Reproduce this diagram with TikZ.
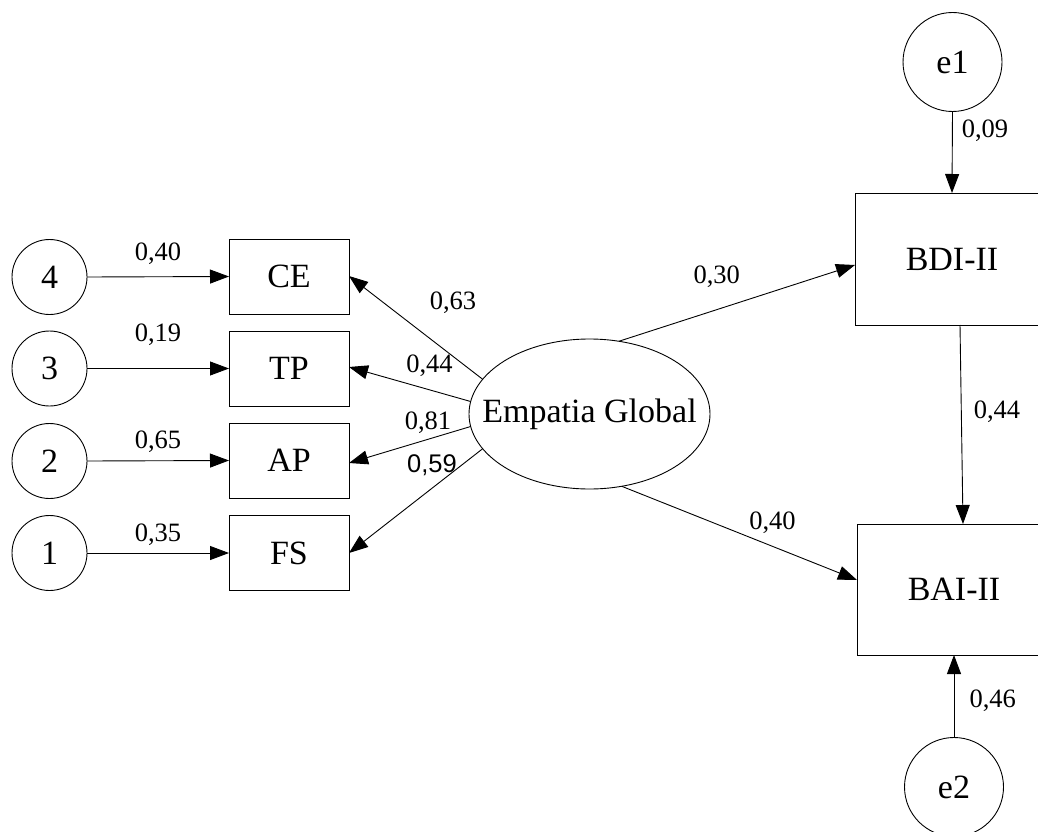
\documentclass[tikz,border=0pt]{standalone}
\usepackage{fontspec}
\setmainfont{Liberation Serif}
\newfontfamily\arialfont{Liberation Sans}
\usetikzlibrary{shapes.geometric,arrows.meta}
\begin{document}
\begin{tikzpicture}[x=1pt,y=-1pt,
  every node/.style={inner sep=0pt,outer sep=0pt},
  var/.style={draw,line width=0.9pt,rectangle,font=\fontsize{34}{40}\selectfont},
  err/.style={draw,line width=0.9pt,circle,font=\fontsize{34}{40}\selectfont},
  lat/.style={draw,line width=0.9pt,ellipse},
  big/.style={font=\fontsize{34}{40}\selectfont},
  coef/.style={anchor=base,font=\fontsize{26.5}{30}\selectfont},
  path/.style={line width=0.9pt,-{Triangle[length=19pt,width=14pt]}}]
\useasboundingbox (0,0) rectangle (1038,832);
% left error circles
\node[err,minimum size=75pt] (c4) at (49.5,277) {4};
\node[err,minimum size=75pt] (c3) at (49.5,368.5) {3};
\node[err,minimum size=75pt] (c2) at (49.5,461) {2};
\node[err,minimum size=75pt] (c1) at (49.5,553) {1};
% observed boxes
\node[var,minimum width=120pt,minimum height=75pt] (CE) at (289,276.5) {CE};
\node[var,minimum width=120pt,minimum height=75pt] (TP) at (289,368.5) {TP};
\node[var,minimum width=120pt,minimum height=75pt] (AP) at (289,460.5) {AP};
\node[var,minimum width=120pt,minimum height=75pt] (FS) at (289,553) {FS};
% latent
\node[lat,minimum width=241pt,minimum height=150pt] (EG) at (589.5,414) {};
\node[big] (EGt) at (EG.center) {Empatia Global};
% right side
\node[var,minimum width=194pt,minimum height=132pt] (BDI) at (952,259) {BDI-II};
\node[var,minimum width=194pt,minimum height=131pt] (BAI) at (954,589.5) {BAI-II};
\node[err,minimum size=99pt] (e1) at (952.5,62) {e1};
\node[err,minimum size=99pt] (e2) at (954,787) {e2};
% connectors
\draw[path] (c4.east) -- (CE.west);
\draw[path] (c3.east) -- (TP.west);
\draw[path] (c2.east) -- (AP.west);
\draw[path] (c1.east) -- (FS.west);
\draw[path] (EG.162.9) -- ([yshift=0.5pt]CE.east);
\draw[path] (EG.174.2) -- ([yshift=1.5pt]TP.east);
\draw[path] (EG.186.7) -- ([yshift=-2.5pt]AP.east);
\draw[path] (EG.198.5) -- (FS.east);
\draw[path] (EG.68) -- ([yshift=-6pt]BDI.west);
\draw[path] (EG.294) -- ([yshift=9.5pt]BAI.west);
\draw[path] ([xshift=8pt]BDI.south) -- ([xshift=9pt]BAI.north);
\draw[path] (e1.south) -- (BDI.north);
\draw[path] (e2.north) -- (BAI.south);
% coefficients
\node[coef] (l40) at (158,260) {0,40};
\node[coef] (l19) at (158,341.7) {0,19};
\node[coef] (l65) at (158,448) {0,65};
\node[coef] (l35) at (158,541.7) {0,35};
\node[coef] (l63) at (453,309) {0,63};
\node[coef] (l44a) at (429.5,372) {0,44};
\node[coef] (l81) at (428,429) {0,81};
\node[coef,font=\arialfont\fontsize{25.5}{30}\selectfont] (l59) at (432,472.7) {0,59};
\node[coef] (l30) at (716.7,283) {0,30};
\node[coef] (l40b) at (772.5,529) {0,40};
\node[coef] (l44b) at (997,418) {0,44};
\node[coef] (l09) at (985,138) {0,09};
\node[coef] (l46) at (992.7,707) {0,46};
\end{tikzpicture}
\end{document}
